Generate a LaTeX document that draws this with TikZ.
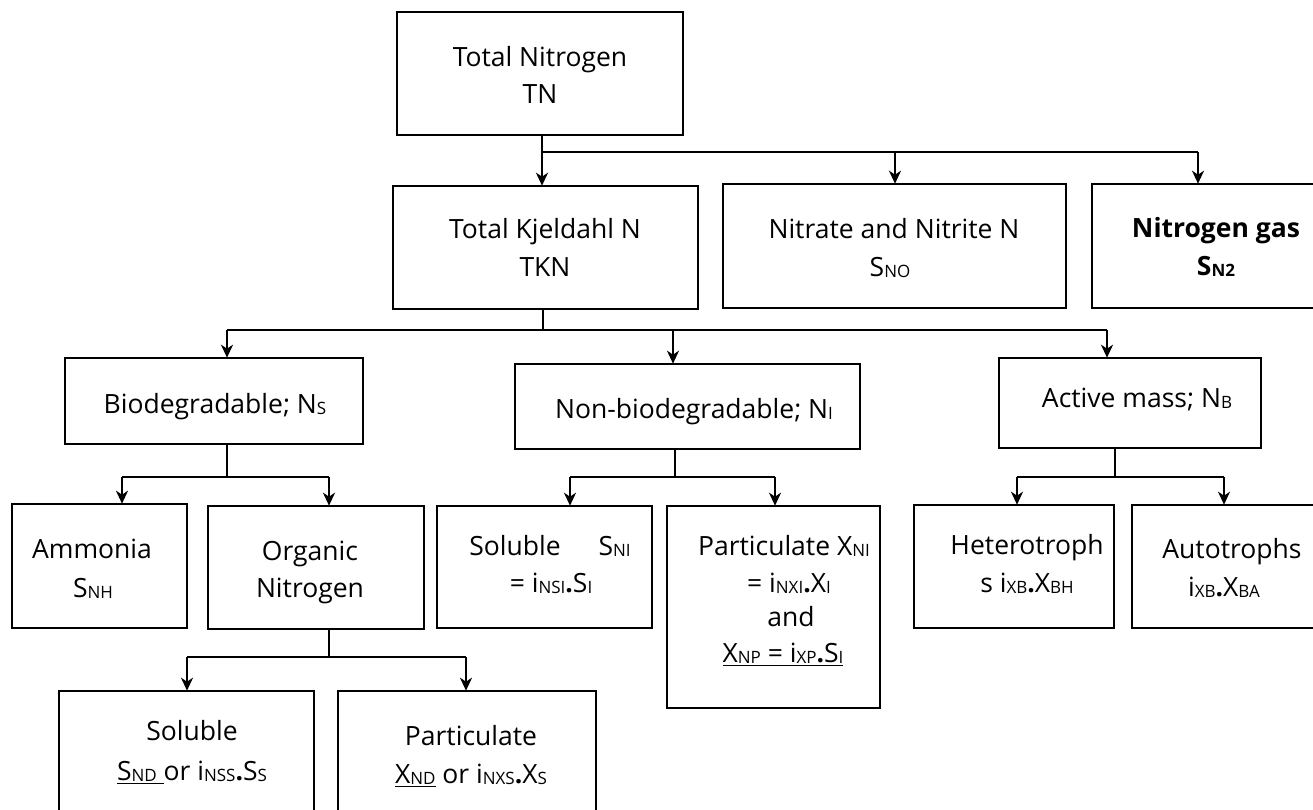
\documentclass[tikz,border=0pt]{standalone}
\usepackage{fontspec}
\setmainfont{Open Sans}
\usetikzlibrary{arrows.meta}
% subscript set small and only slightly lowered
\newcommand{\sbs}[1]{\raisebox{-1.5pt}{\fontsize{17}{17}\selectfont #1}}
\newcommand{\dt}{\textbf{.}}
\begin{document}
\begin{tikzpicture}[x=1pt,y=-1pt,
  box/.style={draw, line width=2.6pt, inner sep=0pt},
  txt/.style={inner sep=0pt, anchor=base, font=\fontsize{26.5}{32}\selectfont},
  wire/.style={draw, line width=2.2pt},
  arr/.style={draw, line width=2.2pt, -{Stealth[length=13pt,width=12pt,inset=4pt]}, shorten >=-1pt}
]
\useasboundingbox (0,0) rectangle (1313,809);
\clip (0,0) rectangle (1313,809);
\fill[white] (0,0) rectangle (1313,809);

% box from corner (x1,y1) to corner (x2,y2)
\newcommand{\mkbox}[5]{%
  \node[box, minimum width={(#4-#2)*1pt}, minimum height={(#5-#3)*1pt}]
    (#1) at ({(#2+#4)/2},{(#3+#5)/2}) {};}

% level 1
\mkbox{tn}{397}{12}{683}{135}
% level 2
\mkbox{tkn}{393}{186}{698}{309}
\mkbox{nit}{723}{184}{1066}{308}
\mkbox{ntwo}{1092}{184}{1340}{308}
% level 3
\mkbox{bio}{65}{358}{363}{444}
\mkbox{nonbio}{515}{364}{860}{449}
\mkbox{active}{999}{358}{1261}{448}
% level 4
\mkbox{amm}{12}{504}{187}{628}
\mkbox{org}{208}{506}{424}{629}
\mkbox{sol}{437}{506}{652}{628}
\mkbox{part}{667}{506}{880}{708}
\mkbox{het}{914}{505}{1114}{628}
\mkbox{aut}{1132}{505}{1340}{628}
% level 5
\mkbox{lsol}{59}{691}{314}{840}
\mkbox{lpart}{338}{691}{596}{840}

% texts
\node[txt] at (540,66) {Total Nitrogen};
\node[txt] at (540,103) {TN};
\node[txt] at (545,238) {Total Kjeldahl N};
\node[txt] at (545,276) {TKN};
\node[txt] at (894,238) {Nitrate and Nitrite N};
\node[txt] at (890,276) {S\sbs{NO}};
\node[txt] at (1216,237) {\textbf{Nitrogen gas}};
\node[txt] at (1216,275) {\textbf{S\sbs{N2}}};

\node[txt] at (215,413) {Biodegradable; N\sbs{S}};
\node[txt] at (694,418) {Non-biodegradable; N\sbs{I}};
\node[txt] at (1137,407) {Active mass; N\sbs{B}};

\node[txt] at (92,558) {Ammonia};
\node[txt] at (93,597) {S\sbs{NH}};
\node[txt] at (310,560) {Organic};
\node[txt] at (310,597) {Nitrogen};
\node[txt] at (550,555) {Soluble\hspace{38pt}S\sbs{NI}};
\node[txt] at (551,592) {= i\sbs{NSI}\dt S\sbs{I}};
\node[txt] at (784,555) {Particulate X\sbs{NI}};
\node[txt] at (789,592) {= i\sbs{NXI}\dt X\sbs{I}};
\node[txt] at (791,626) {and};
\node[txt] at (783,662) {\underline{X\sbs{NP} = i\sbs{XP}\dt S\sbs{I}}};
\node[txt] at (1027,554) {Heterotroph};
\node[txt] at (1027,592) {s i\sbs{XB}\dt X\sbs{BH}};
\node[txt] at (1232,558) {Autotrophs};
\node[txt] at (1224,596) {i\sbs{XB}\dt X\sbs{BA}};

\node[txt] at (192,740) {Soluble};
\node[txt] at (192,780) {\underline{S\sbs{ND}\ }or i\sbs{NSS}\dt S\sbs{S}};
\node[txt] at (471,745) {Particulate};
\node[txt] at (471,783) {\underline{X\sbs{ND}} or i\sbs{NXS}\dt X\sbs{S}};

% connectors: total nitrogen
\coordinate (a0) at (542,152);
\coordinate (a1) at (895,152);
\coordinate (a2) at (1198,152);
\draw[wire] (a0 |- tn.south) -- (a0) -- (a2);
\draw[arr] (a0) -- (a0 |- tkn.north);
\draw[arr] (a1) -- (a1 |- nit.north);
\draw[arr] (a2) -- (a2 |- ntwo.north);

% connectors: TKN
\coordinate (b0) at (543,330);
\coordinate (b1) at (227,330);
\coordinate (b2) at (673,330);
\coordinate (b3) at (1107,330);
\draw[wire] (b0 |- tkn.south) -- (b0);
\draw[wire] (b1) -- (b3);
\draw[arr] (b1) -- (b1 |- bio.north);
\draw[arr] (b2) -- (b2 |- nonbio.north);
\draw[arr] (b3) -- (b3 |- active.north);

% connectors: biodegradable
\coordinate (c0) at (227,477);
\coordinate (c1) at (122,477);
\coordinate (c2) at (329,477);
\draw[wire] (c0 |- bio.south) -- (c0);
\draw[wire] (c1) -- (c2);
\draw[arr] (c1) -- (c1 |- amm.north);
\draw[arr] (c2) -- (c2 |- org.north);

% connectors: non-biodegradable
\coordinate (d0) at (675,477);
\coordinate (d1) at (570,477);
\coordinate (d2) at (775,477);
\draw[wire] (d0 |- nonbio.south) -- (d0);
\draw[wire] (d1) -- (d2);
\draw[arr] (d1) -- (d1 |- sol.north);
\draw[arr] (d2) -- (d2 |- part.north);

% connectors: active mass
\coordinate (e0) at (1115,477);
\coordinate (e1) at (1017,477);
\coordinate (e2) at (1224,477);
\draw[wire] (e0 |- active.south) -- (e0);
\draw[wire] (e1) -- (e2);
\draw[arr] (e1) -- (e1 |- het.north);
\draw[arr] (e2) -- (e2 |- aut.north);

% connectors: organic nitrogen
\coordinate (f0) at (329,657);
\coordinate (f1) at (187,657);
\coordinate (f2) at (466,657);
\draw[wire] (f0 |- org.south) -- (f0);
\draw[wire] (f1) -- (f2);
\draw[arr] (f1) -- (f1 |- lsol.north);
\draw[arr] (f2) -- (f2 |- lpart.north);
\end{tikzpicture}
\end{document}
